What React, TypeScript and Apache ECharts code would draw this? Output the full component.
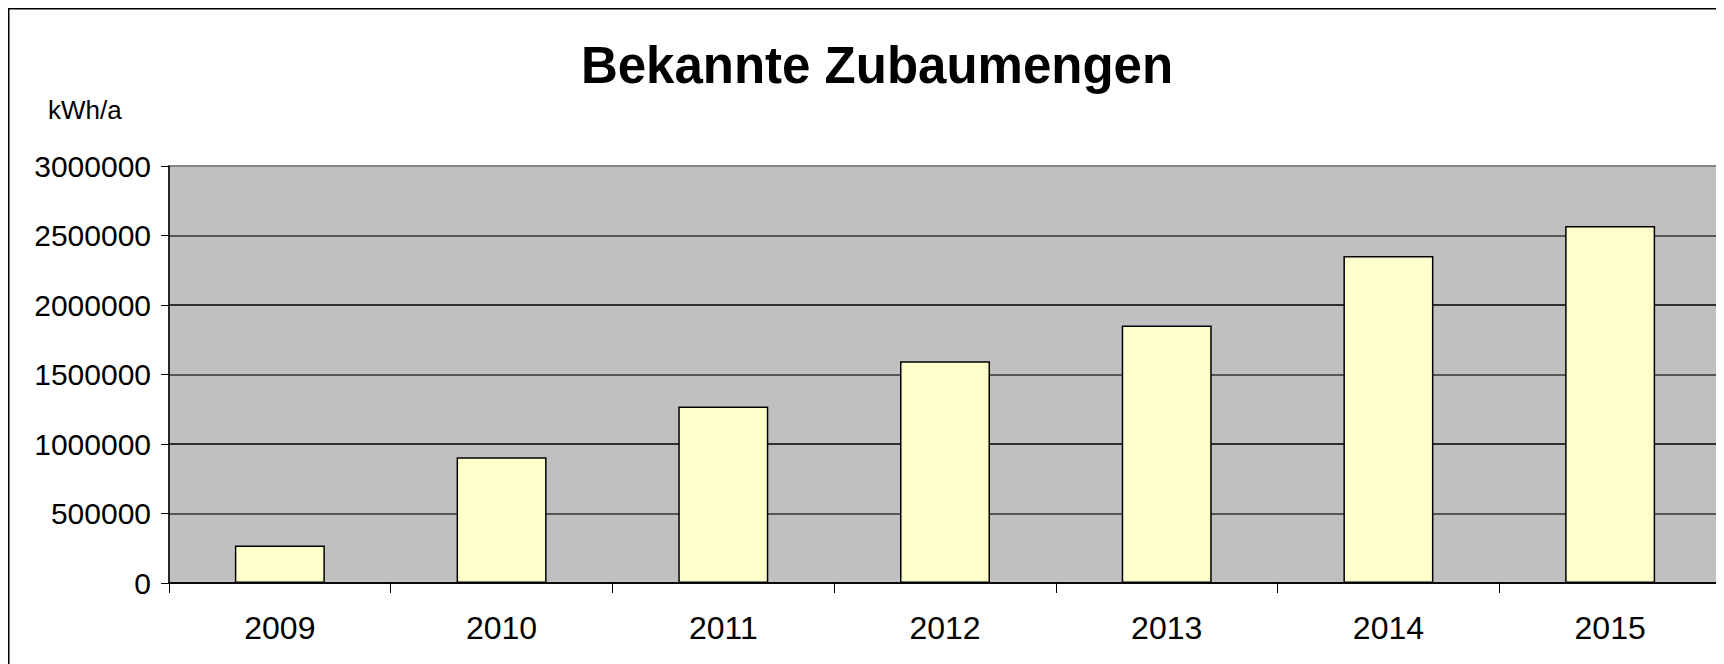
import React, { useEffect, useRef } from "react";
import * as echarts from "echarts";

const titleText = "Bekannte Zubaumengen";
const unitLabel = "kWh/a";
const years = ["2009", "2010", "2011", "2012", "2013", "2014", "2015"];
const zubau = [270000, 905000, 1270000, 1595000, 1853000, 2353000, 2568000];
const yMin = 0;
const yMax = 3000000;
const yStep = 500000;

export default function App() {
  const ref = useRef<HTMLDivElement>(null);
  useEffect(() => {
    document.documentElement.style.overflow = "hidden";
    document.body.style.overflow = "hidden";
    if (!ref.current) return;
    const chart = echarts.init(ref.current, null, { renderer: "svg" });
    const font = "'Liberation Sans', Arial, sans-serif";
    chart.setOption({
      animation: false,
      backgroundColor: "#ffffff",
      title: {
        text: titleText,
        left: 864,
        top: 27,
        textAlign: "center",
        textStyle: { fontFamily: font, fontSize: 51, fontWeight: "bold", color: "#000" },
      },
      graphic: [
        {
          type: "rect",
          shape: { x: 0.75, y: 0.75, width: 1760, height: 720 },
          style: { stroke: "#000", lineWidth: 1.5, fill: "none" },
          silent: true,
        },
        {
          type: "text",
          left: 40,
          top: 89,
          style: { text: unitLabel, font: `26px ${font}`, fill: "#000" },
        },
      ],
      grid: {
        left: 161,
        top: 158,
        right: 3,
        bottom: 81,
        show: true,
        backgroundColor: "#C0C0C0",
        borderColor: "#808080",
        borderWidth: 1.5,
        containLabel: false,
      },
      xAxis: {
        type: "category",
        data: years,
        boundaryGap: true,
        axisLine: { show: true, lineStyle: { color: "#000", width: 1.5 } },
        axisTick: { show: true, alignWithLabel: false, length: 10, lineStyle: { color: "#000", width: 1 } },
        axisLabel: { fontFamily: font, fontSize: 32, color: "#000", margin: 29 },
        splitLine: { show: false },
      },
      yAxis: {
        type: "value",
        min: yMin,
        max: yMax,
        interval: yStep,
        axisLine: { show: true, lineStyle: { color: "#000", width: 1.5 } },
        axisTick: { show: true, length: 8, lineStyle: { color: "#000", width: 1 } },
        axisLabel: {
          fontFamily: font,
          fontSize: 30,
          color: "#000",
          margin: 18,
          formatter: (v: number) => String(v),
        },
        splitLine: {
          show: true,
          lineStyle: {
            color: ["#000", "#333", "#000", "#333", "#000", "#333", "#808080"],
            width: 1.5,
          },
        },
      },
      series: [
        {
          type: "bar",
          data: zubau,
          barWidth: 90,
          itemStyle: { color: "#FFFFCC", borderColor: "#000", borderWidth: 1.5 },
        },
      ],
    });
    return () => chart.dispose();
  }, []);
  return <div ref={ref} style={{ width: 1716, height: 656 }} />;
}
